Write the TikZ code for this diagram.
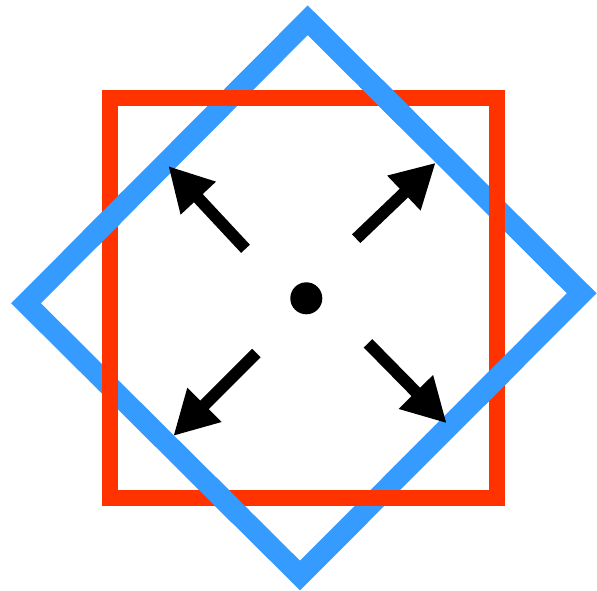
\documentclass[tikz,border=0pt]{standalone}
\usetikzlibrary{arrows.meta}
\definecolor{sqred}{RGB}{255,51,0}
\definecolor{dmblue}{RGB}{54,155,255}
\begin{document}
\begin{tikzpicture}[x=1pt,y=-1pt,
  sqline/.style={draw=sqred,line width=16pt,line join=miter},
  dmline/.style={draw=dmblue,line width=21pt,line join=miter},
  outarrow/.style={draw=black,line width=12pt,-{Triangle[length=44pt,width=45pt]}}]
\useasboundingbox (0,0) rectangle (597,591);
\coordinate (dT) at (307.7,20.3);
\coordinate (dR) at (581.7,293.3);
\coordinate (dB) at (300,575.5);
\coordinate (dL) at (26,303.3);
\draw[dmline] (dT) -- (dR) -- (dB) -- (dL) -- cycle;
\draw[sqline] (110,98.5) rectangle (497,498);
% blue passes over red at alternate crossings
\foreach \px/\py in {386.2/98.5, 497/378.2, 222/498, 110/218.9}{
  \begin{scope}
    \clip (\px,\py) circle (30);
    \draw[dmline] (dT) -- (dR) -- (dB) -- (dL) -- cycle;
  \end{scope}
}
\node[circle,fill=black,inner sep=0pt,minimum size=32pt] (dot) at (306.3,298.3) {};
\coordinate (nwS) at (245.5,248.8); \coordinate (nwT) at (168.3,166);
\coordinate (neS) at (356.2,238.7); \coordinate (neT) at (435.7,162.7);
\coordinate (swS) at (256.3,353);   \coordinate (swT) at (173.3,436);
\coordinate (seS) at (368,343.3);   \coordinate (seT) at (446.7,423.3);
\draw[outarrow] (nwS) -- (nwT);
\draw[outarrow] (neS) -- (neT);
\draw[outarrow] (swS) -- (swT);
\draw[outarrow] (seS) -- (seT);
\end{tikzpicture}
\end{document}
